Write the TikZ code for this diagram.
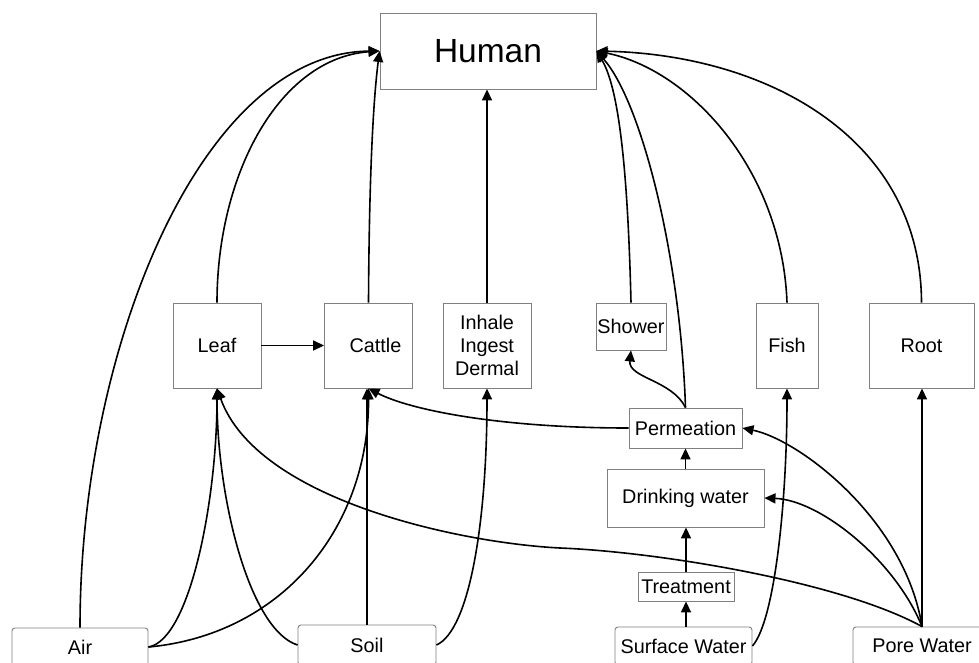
\documentclass[tikz,border=0pt]{standalone}
\usepackage{fontspec}
\setmainfont{Liberation Sans}
\usetikzlibrary{arrows.meta}
\definecolor{boxgray}{RGB}{128,128,128}
\begin{document}
\begin{tikzpicture}[x=1pt,y=-1pt,
  box/.style={draw=boxgray, line width=0.9pt, inner sep=0pt, align=center,
              font=\fontsize{19.8}{23}\selectfont},
  srcbox/.style={box, rounded corners=3pt},
  flow/.style={draw=black, line width=1.6pt, -{Triangle[length=11pt,width=10pt]}},
]
\path[use as bounding box, clip] (0,0) rectangle (979,663);

% nodes
\node[box, minimum width=216pt, minimum height=76pt,
      font=\fontsize{33.5}{40}\selectfont] (human) at (488,51) {Human};
\node[box, minimum width=88pt, minimum height=85pt] (leaf) at (217,345.5) {Leaf};
\node[box, minimum width=88pt, minimum height=85pt] (cattle) at (368.5,345.5) {\hspace*{14pt}Cattle};
\node[box, minimum width=88pt, minimum height=85pt] (inhale) at (487,345.5) {Inhale\\Ingest\\Dermal};
\node[box, minimum width=70pt, minimum height=47pt] (shower) at (631,326.5) {Shower};
\node[box, minimum width=62pt, minimum height=85pt] (fish) at (787,345.5) {Fish};
\node[box, minimum width=105pt, minimum height=85pt] (root) at (921.5,345.5) {Root};
\node[box, minimum width=113pt, minimum height=40pt] (perm) at (685.5,428) {Permeation};
\node[box, minimum width=157pt, minimum height=58pt] (drink) at (685.5,498) {Drinking water};
\node[box, minimum width=96pt, minimum height=29pt] (treat) at (686,586.5) {Treatment};
\node[srcbox, minimum width=136pt, minimum height=38pt] (air) at (80,647) {Air};
\node[srcbox, minimum width=138pt, minimum height=40pt] (soil) at (367,645) {Soil};
\node[srcbox, minimum width=137pt, minimum height=38pt] (surf) at (683.5,646) {Surface Water};
\node[srcbox, minimum width=138pt, minimum height=38pt] (pore) at (922,646) {Pore Water};

\coordinate (pm) at (560,548);

% to Human
\draw[flow] (air.north) .. controls (80,350) and (200,53) .. (human.west);
\draw[flow] (leaf.north) .. controls (217,173) and (280,58) .. (human.west);
\draw[flow] (cattle.north) .. controls (369,200) and (372,110) .. (human.west);
\draw[flow] (inhale.north) -- (inhale.north |- human.south);
\draw[flow] (shower.north) .. controls (628,180) and (620,90) .. (human.east);
\draw[flow] (perm.north) .. controls (680,250) and (640,100) .. (human.east);
\draw[flow] (fish.north) .. controls (782,170) and (690,70) .. (human.east);
\draw[flow] (root.north) .. controls (921,140) and (770,55) .. (human.east);

% middle layer
\draw[flow] (leaf.east) -- (cattle.west);
\draw[flow] (perm.west) .. controls (500,428) and (410,410) .. (cattle.south);
\draw[flow] (perm.north) .. controls (672,380) and (628,378) .. (shower.south);
\draw[flow] (drink.north) -- (perm.south);
\draw[flow] (treat.north) -- (drink.south -| treat.north);
\draw[flow] (surf.north -| treat.north) -- (treat.south);

% sources
\draw[flow] (air.east) .. controls (190,640) and (217,500) .. (leaf.south);
\draw[flow] (air.east) .. controls (280,635) and (369,530) .. (cattle.south);
\draw[flow] (soil.west) .. controls (250,630) and (217,500) .. (leaf.south);
\draw[flow] (soil.north) -- (soil.north |- cattle.south);
\draw[flow] (soil.east) .. controls (470,630) and (487,520) .. (inhale.south);
\draw[flow] (surf.east) .. controls (775,620) and (787,500) .. (fish.south);
\draw[flow] (pore.north) -- (pore.north |- root.south);
\draw[flow] (pore.north) .. controls (905,520) and (800,440) .. (perm.east);
\draw[flow] (pore.north) .. controls (895,560) and (820,500) .. (drink.east);
\draw[flow] (pore.north) .. controls (841,582) and (660,552) .. (pm)
                         .. controls (460,543) and (257,500) .. (leaf.south);
\end{tikzpicture}
\end{document}
